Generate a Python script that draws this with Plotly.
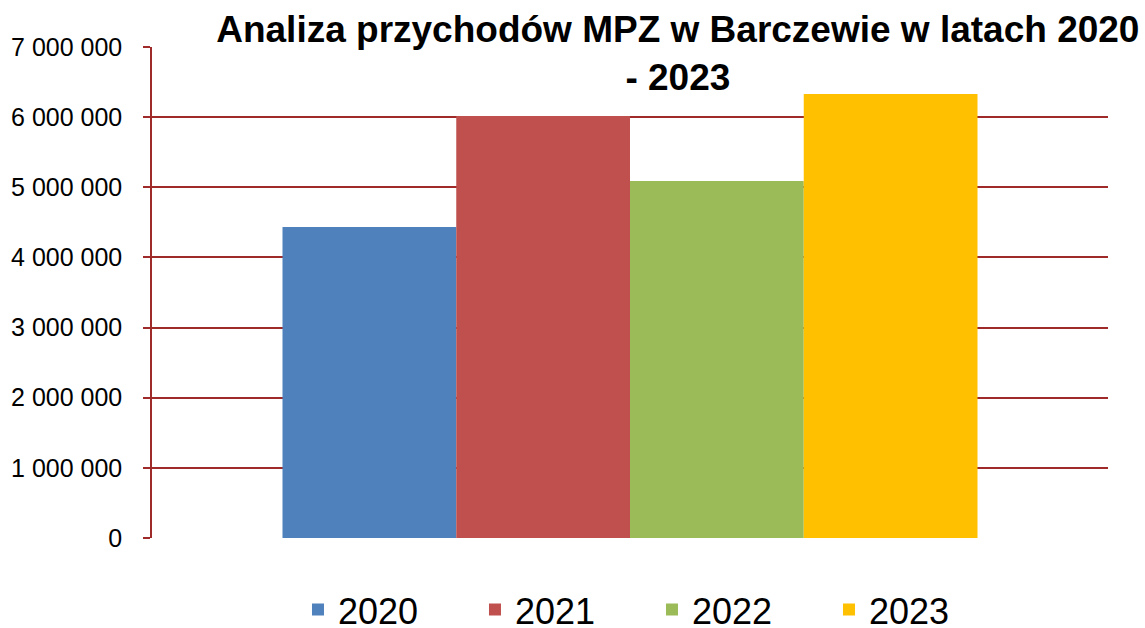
import plotly.graph_objects as go

years = ["2020", "2021", "2022", "2023"]
values = [4434000, 6017000, 5090000, 6330000]
colors = ["#4F81BD", "#C0504D", "#9BBB59", "#FFC000"]
tick_vals = [0, 1000000, 2000000, 3000000, 4000000, 5000000, 6000000, 7000000]
grid_vals = [1000000, 2000000, 3000000, 4000000, 5000000, 6000000]

fig = go.Figure()
for yr, v, c in zip(years, values, colors):
    fig.add_trace(go.Bar(x=[0], y=[v], name=yr, marker=dict(color=c, line=dict(width=0))))
fig.add_trace(go.Scatter(x=[], y=[], yaxis="y2", showlegend=False, hoverinfo="skip"))

maroon = "#9E2A2A"
font = "Liberation Sans, Arial, sans-serif"
fig.update_layout(
    template="none",
    width=1145, height=628,
    margin=dict(l=152, r=37, t=47, b=90, autoexpand=False),
    paper_bgcolor="white", plot_bgcolor="white",
    separators=", ",
    barmode="group", bargap=0.273, bargroupgap=0,
    title=dict(text="<b>Analiza przychodów MPZ w Barczewie w latach 2020<br>- 2023</b>",
               x=0.592, xanchor="center", y=0.933, yanchor="top",
               font=dict(family=font, size=37, color="black")),
    xaxis=dict(range=[-0.5, 0.5], showticklabels=False, showgrid=False, zeroline=False,
               showline=False, ticks="", automargin=False),
    yaxis=dict(range=[0, 7000000], tickvals=tick_vals, tickformat=",d", automargin=False,
               showgrid=False, zeroline=False, showline=True, linecolor=maroon, linewidth=1.5,
               ticks="outside", ticklen=7, tickcolor=maroon, tickwidth=1.5,
               ticklabelstandoff=16,
               tickfont=dict(family=font, size=25, color="black")),
    yaxis2=dict(range=[0, 7000000], overlaying="y", tickvals=grid_vals, showgrid=True,
                gridcolor=maroon, gridwidth=1.5, showticklabels=False, ticks="",
                zeroline=False, showline=False, automargin=False),
    legend=dict(orientation="h", x=0.523, xanchor="center", y=-0.146, yanchor="middle",
                font=dict(family=font, size=36, color="black"), entrywidth=132,
                bgcolor="rgba(0,0,0,0)"),
    showlegend=True,
)
fig.write_html("out.html", config={"displayModeBar": False},
               post_script="document.body.style.margin='0';document.body.style.overflow='hidden';")
